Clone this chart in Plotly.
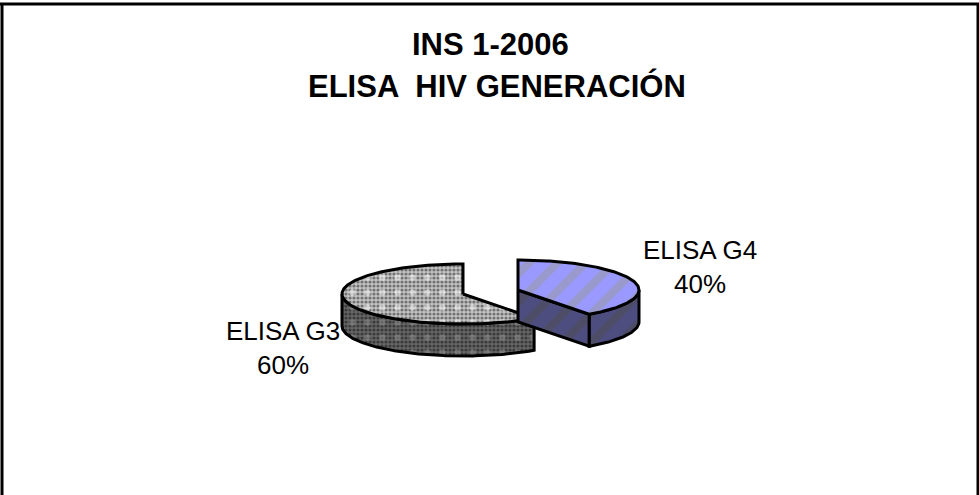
import numpy as np
import plotly.graph_objects as go

categories = ["ELISA G4", "ELISA G3"]
values = [40, 60]
title_lines = ["INS 1-2006", "ELISA  HIV GENERACIÓN"]

W, H = 979, 495
RX, RY, DEPTH = 121, 30, 32
CENTERS = {"ELISA G4": (518, 290), "ELISA G3": (463, 294)}
LABEL_POS = {"ELISA G4": (700, 267), "ELISA G3": (283, 348)}
TITLE_POS = [(490, 44), (497, 86)]

fig = go.Figure()


def pt(c, a, dy=0):
    a = np.radians(a)
    return c[0] + RX * np.sin(a), c[1] - RY * np.cos(a) + dy


def arc(c, a0, a1, dy=0):
    n = max(int(abs(a1 - a0)), 2)
    return pt(c, np.linspace(a0, a1, n), dy)


def poly(x, y, fp, line=True):
    fig.add_trace(go.Scatter(
        x=list(x), y=list(y), mode="lines", fill="toself",
        fillcolor="rgba(0,0,0,0)",
        fillpattern=fp,
        line=dict(color="#000000" if line else "rgba(0,0,0,0)", width=3),
        hoverinfo="skip", showlegend=False))


def fine(bg, fg):
    return dict(shape=".", size=4, solidity=0.5, bgcolor=bg, fgcolor=fg, fillmode="overlay")


def dots(fg):
    return dict(shape=".", size=15, solidity=0.14, bgcolor="rgba(0,0,0,0)", fgcolor=fg, fillmode="overlay")


def stripes(bg, fg):
    return dict(shape="/", size=20, solidity=0.4, bgcolor=bg, fgcolor=fg, fillmode="overlay")


# slice angles from the values (clockwise from 12 o'clock)
end_g4 = 360 * values[0] / sum(values)
c3, c4 = CENTERS["ELISA G3"], CENTERS["ELISA G4"]

# G3 wall, then top
xa, ya = arc(c3, end_g4, 270)
xb, yb = arc(c3, 270, end_g4, DEPTH)
xs, ys = np.r_[xa, xb, xa[0]], np.r_[ya, yb, ya[0]]
poly(xs, ys, fine("#666666", "#101010"), line=False)
poly(xs, ys, dots("#8f8f8f"))
xa, ya = arc(c3, end_g4, 360)
xt, yt = np.r_[c3[0], xa, c3[0]], np.r_[c3[1], ya, c3[1]]
poly(xt, yt, fine("#c4c4c4", "#202020"), line=False)
poly(xt, yt, dots("#ffffff"))

# G4 outer wall and cut face, then top
xa, ya = arc(c4, 90, end_g4)
xe, ye = pt(c4, end_g4)
xb, yb = arc(c4, end_g4, 90, DEPTH)
poly(np.r_[xa, xb, xa[0]], np.r_[ya, yb, ya[0]], stripes("#4d4d80", "#4d4d4d"))
poly([c4[0], xe, xe, c4[0], c4[0]],
     [c4[1], ye, ye + DEPTH, c4[1] + DEPTH, c4[1]], stripes("#4d4d80", "#4d4d4d"))
xa, ya = arc(c4, 0, end_g4)
poly(np.r_[c4[0], xa, c4[0]], np.r_[c4[1], ya, c4[1]], stripes("#9999ff", "#999999"))

fig.update_xaxes(range=[0, W], visible=False, fixedrange=True)
fig.update_yaxes(range=[H, 0], visible=False, fixedrange=True)

annotations = []
for cat, val in zip(categories, values):
    x, y = LABEL_POS[cat]
    annotations.append(dict(
        x=x, y=y, xref="x", yref="y", showarrow=False, align="center",
        text=f"{cat}<br>{val}%",
        font=dict(family="Liberation Sans", size=26, color="#000000")))
for line, (x, y) in zip(title_lines, TITLE_POS):
    annotations.append(dict(
        x=x, y=y, xref="x", yref="y", showarrow=False,
        text=f"<b>{line}</b>",
        font=dict(family="Liberation Sans", size=31, color="#000000")))

fig.update_layout(
    width=W, height=H, margin=dict(l=0, r=0, t=0, b=0),
    paper_bgcolor="#ffffff", plot_bgcolor="#ffffff", showlegend=False,
    annotations=annotations,
    shapes=[dict(type="line", xref="x", yref="y", x0=x0, y0=y0, x1=x1, y1=y1,
                 line=dict(color="#000000", width=w))
            for x0, y0, x1, y1, w in [(0, 4, W, 4, 3), (2, 3, 2, H, 3), (978, 3, 978, H, 3)]],
)

fig.write_html("out.html", config={"displayModeBar": False},
               post_script="document.body.style.margin='0';document.documentElement.style.overflow='hidden';")
